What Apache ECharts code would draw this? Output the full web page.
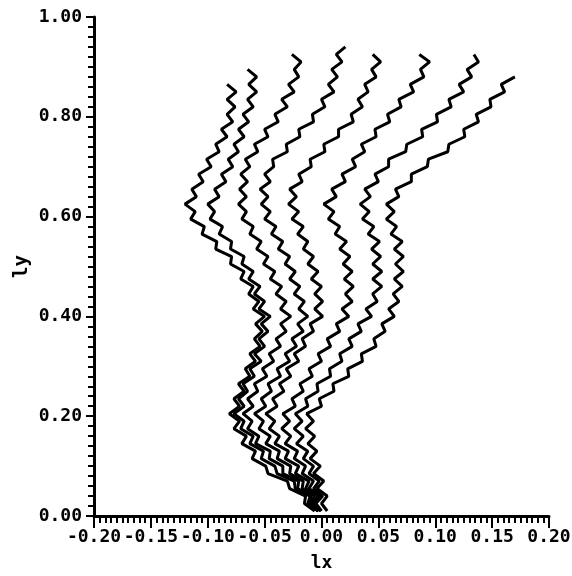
<!DOCTYPE html>
<html>
<head>
<meta charset="utf-8">
<script src="https://cdn.jsdelivr.net/npm/echarts@6/dist/echarts.min.js"></script>
<style>html,body{margin:0;padding:0;background:#fff}#c{width:572px;height:576px}</style>
</head>
<body>
<div id="c"></div>
<script>
// shared y levels (ly)
const yLevels = [
0.010,0.025,0.040,0.055,0.070,0.085,0.100,0.115,0.130,0.145,
0.160,0.175,0.190,0.205,0.220,0.235,0.250,0.265,0.280,0.295,
0.310,0.325,0.340,0.355,0.370,0.385,0.400,0.415,0.430,0.445,
0.460,0.475,0.490,0.505,0.520,0.535,0.550,0.565,0.580,0.595,
0.610,0.625,0.640,0.655,0.670,0.685,0.700,0.715,0.730,0.745,
0.760,0.775,0.790,0.805,0.820,0.835,0.850,0.865,0.880,0.895,
0.910,0.925,0.940];

// lx values of each curve at the y levels above
const curve1 = [-0.006,-0.015,-0.014,-0.028,-0.030,-0.047,-0.049,-0.061,-0.058,-0.070,
-0.066,-0.077,-0.072,-0.081,-0.072,-0.077,-0.068,-0.073,-0.063,-0.067,
-0.058,-0.063,-0.054,-0.059,-0.052,-0.058,-0.050,-0.060,-0.055,-0.064,
-0.060,-0.071,-0.068,-0.080,-0.079,-0.093,-0.092,-0.105,-0.103,-0.115,
-0.111,-0.120,-0.110,-0.114,-0.104,-0.108,-0.097,-0.101,-0.090,-0.093,
-0.083,-0.088,-0.078,-0.083,-0.076,-0.083,-0.075,-0.083];
const curve2 = [-0.003,-0.012,-0.010,-0.023,-0.024,-0.039,-0.041,-0.053,-0.051,-0.063,
-0.060,-0.071,-0.068,-0.077,-0.068,-0.073,-0.065,-0.069,-0.059,-0.063,
-0.053,-0.059,-0.050,-0.055,-0.047,-0.053,-0.045,-0.055,-0.050,-0.059,
-0.054,-0.064,-0.060,-0.070,-0.068,-0.080,-0.079,-0.090,-0.087,-0.098,
-0.094,-0.100,-0.090,-0.094,-0.084,-0.088,-0.078,-0.082,-0.073,-0.077,
-0.068,-0.073,-0.064,-0.069,-0.060,-0.065,-0.057,-0.064,-0.057,-0.065];
const curve3 = [-0.003,-0.011,-0.009,-0.021,-0.020,-0.034,-0.034,-0.046,-0.045,-0.058,
-0.055,-0.065,-0.061,-0.069,-0.060,-0.065,-0.056,-0.059,-0.048,-0.052,
-0.042,-0.046,-0.036,-0.040,-0.031,-0.036,-0.027,-0.036,-0.031,-0.040,
-0.035,-0.045,-0.041,-0.051,-0.047,-0.057,-0.053,-0.063,-0.060,-0.070,
-0.066,-0.073,-0.066,-0.072,-0.065,-0.071,-0.063,-0.067,-0.056,-0.059,
-0.047,-0.050,-0.038,-0.041,-0.030,-0.035,-0.024,-0.029,-0.020,-0.024,
-0.018,-0.026];
const curve4 = [-0.003,-0.010,-0.006,-0.017,-0.016,-0.028,-0.027,-0.039,-0.037,-0.049,
-0.045,-0.055,-0.051,-0.059,-0.049,-0.053,-0.044,-0.047,-0.036,-0.039,
-0.028,-0.032,-0.022,-0.026,-0.016,-0.021,-0.012,-0.020,-0.015,-0.024,
-0.019,-0.028,-0.023,-0.032,-0.028,-0.038,-0.034,-0.044,-0.040,-0.050,
-0.045,-0.053,-0.047,-0.054,-0.045,-0.050,-0.042,-0.043,-0.030,-0.031,
-0.019,-0.020,-0.007,-0.008,0.003,0.000,0.011,0.006,0.014,0.009,
0.018,0.013,0.021];
const curve5 = [-0.001,-0.008,-0.003,-0.014,-0.011,-0.023,-0.020,-0.032,-0.029,-0.041,
-0.037,-0.046,-0.041,-0.049,-0.039,-0.043,-0.033,-0.037,-0.027,-0.031,
-0.020,-0.024,-0.014,-0.017,-0.007,-0.010,0.001,-0.006,0.001,-0.006,
0.000,-0.009,-0.003,-0.012,-0.007,-0.016,-0.012,-0.021,-0.016,-0.026,
-0.020,-0.029,-0.022,-0.028,-0.017,-0.020,-0.009,-0.010,0.003,0.002,
0.015,0.015,0.028,0.026,0.036,0.032,0.041,0.038,0.048,0.044,
0.052,0.045];
const curve6 = [-0.001,-0.006,-0.001,-0.011,-0.007,-0.017,-0.014,-0.024,-0.021,-0.032,
-0.027,-0.035,-0.028,-0.034,-0.023,-0.026,-0.016,-0.019,-0.008,-0.011,
0.000,-0.003,0.008,0.005,0.016,0.013,0.024,0.018,0.027,0.021,
0.028,0.020,0.027,0.019,0.025,0.016,0.022,0.012,0.016,0.006,
0.011,0.002,0.013,0.009,0.021,0.018,0.030,0.027,0.038,0.035,
0.048,0.047,0.060,0.058,0.070,0.068,0.081,0.078,0.090,0.087,
0.095,0.086];
const curve7 = [0.000,-0.005,0.001,-0.007,-0.002,-0.011,-0.007,-0.016,-0.012,-0.022,
-0.016,-0.024,-0.017,-0.023,-0.012,-0.014,-0.003,-0.004,0.008,0.007,
0.018,0.016,0.027,0.024,0.035,0.032,0.044,0.039,0.049,0.045,
0.053,0.045,0.053,0.045,0.052,0.044,0.051,0.041,0.046,0.036,
0.042,0.034,0.043,0.038,0.050,0.047,0.059,0.059,0.074,0.075,
0.089,0.088,0.102,0.101,0.114,0.112,0.125,0.121,0.132,0.128,
0.138,0.134];
const curve8 = [0.005,0.000,0.005,-0.004,0.002,-0.007,-0.001,-0.010,-0.004,-0.012,
-0.006,-0.014,-0.007,-0.013,0.000,-0.002,0.011,0.010,0.024,0.023,
0.036,0.035,0.048,0.046,0.056,0.053,0.064,0.059,0.068,0.063,
0.071,0.064,0.072,0.065,0.072,0.064,0.071,0.061,0.066,0.057,
0.064,0.057,0.068,0.065,0.079,0.079,0.093,0.094,0.111,0.112,
0.126,0.125,0.138,0.136,0.149,0.148,0.161,0.158,0.170];

const curves = [curve1, curve2, curve3, curve4, curve5, curve6, curve7, curve8];

const xTicks = { min: -0.2, max: 0.2, step: 0.05 };
const yTicks = { min: 0, max: 1, step: 0.2 };

const FONT = '"DejaVu Sans Mono", monospace';

const chart = echarts.init(document.getElementById('c'), null, { renderer: 'canvas' });
chart.setOption({
  animation: false,
  backgroundColor: '#ffffff',
  grid: { left: 94, right: 23, top: 17, bottom: 60, containLabel: false, outerBoundsMode: 'none' },
  xAxis: {
    type: 'value', min: xTicks.min, max: xTicks.max, interval: xTicks.step,
    name: 'lx', nameLocation: 'middle', nameGap: 38,
    nameTextStyle: { fontFamily: FONT, fontWeight: 'bold', fontSize: 18, color: '#000' },
    axisLine: { show: true, onZero: false, lineStyle: { color: '#000', width: 3 } },
    axisTick: { show: true, length: 12, lineStyle: { color: '#000', width: 2 } },
    minorTick: { show: true, splitNumber: 10, length: 7, lineStyle: { color: '#000', width: 2 } },
    splitLine: { show: false },
    axisLabel: { margin: 12, color: '#000', fontFamily: FONT, fontWeight: 'bold', fontSize: 18,
      formatter: v => v.toFixed(2) }
  },
  yAxis: {
    type: 'value', min: yTicks.min, max: yTicks.max, interval: yTicks.step,
    name: 'ly', nameLocation: 'middle', nameGap: 62, nameMoveOverlap: false,
    nameTextStyle: { fontFamily: FONT, fontWeight: 'bold', fontSize: 19, color: '#000' },
    axisLine: { show: true, onZero: false, lineStyle: { color: '#000', width: 3 } },
    axisTick: { show: true, length: 8, lineStyle: { color: '#000', width: 2 } },
    minorTick: { show: true, splitNumber: 10, length: 6, lineStyle: { color: '#000', width: 2 } },
    splitLine: { show: false },
    axisLabel: { margin: 12, color: '#000', fontFamily: FONT, fontWeight: 'bold', fontSize: 18,
      formatter: v => v.toFixed(2) }
  },
  series: curves.map((xs, k) => ({
    type: 'line',
    name: 'c' + (k + 1),
    showSymbol: false,
    symbol: 'none',
    smooth: false,
    lineStyle: { color: '#000', width: 3 },
    data: xs.map((x, i) => [x, yLevels[i]])
  }))
});
</script>
</body>
</html>
